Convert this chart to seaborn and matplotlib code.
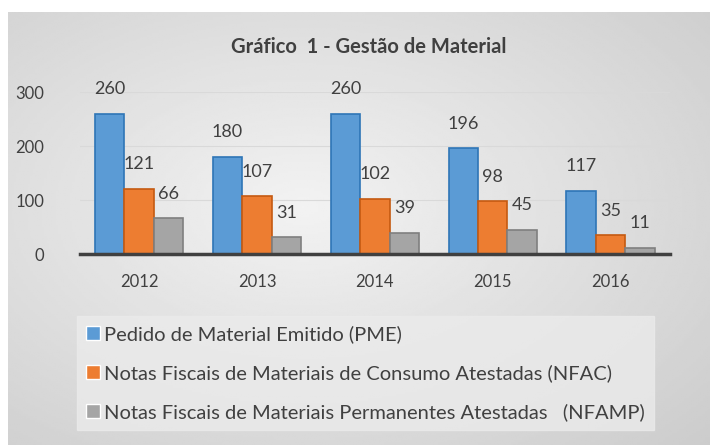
import numpy as np
import pandas as pd
import matplotlib
matplotlib.use("Agg")
import matplotlib.pyplot as plt
import seaborn as sns

anos = ["2012", "2013", "2014", "2015", "2016"]
series = [
    "Pedido de Material Emitido (PME)",
    "Notas Fiscais de Materiais de Consumo Atestadas (NFAC)",
    "Notas Fiscais de Materiais Permanentes Atestadas   (NFAMP)",
]
pme = [260, 180, 260, 196, 117]
nfac = [121, 107, 102, 98, 35]
nfamp = [66, 31, 39, 45, 11]
cores = ["#5b9bd5", "#ed7d31", "#a5a5a5"]
bordas = ["#2e75b6", "#c55a11", "#7f7f7f"]

df = pd.DataFrame({
    "ano": anos * 3,
    "serie": [series[0]] * 5 + [series[1]] * 5 + [series[2]] * 5,
    "valor": pme + nfac + nfamp,
})

sns.set_theme(style="white")
plt.rcParams["font.family"] = ["Lato", "DejaVu Sans"]

fig = plt.figure(figsize=(7.1, 4.45), dpi=100)
fig.patch.set_facecolor("white")

# fundo cinza com gradiente, como no grafico do Excel
bg = fig.add_axes([0.011, 0.0, 0.989, 0.972])
yy, xx = np.mgrid[0:1:200j, 0:1:300j]
r = np.sqrt(((xx - 0.42) / 0.9) ** 2 + ((yy - 0.45) / 0.9) ** 2)
bg.imshow(0.95 - 0.17 * r, cmap="gray", vmin=0, vmax=1, aspect="auto",
          extent=[0, 1, 0, 1])
bg.set_axis_off()

ax = fig.add_axes([0.113, 0.429, 0.83, 0.364])
ax.patch.set_alpha(0)
sns.barplot(data=df, x="ano", y="valor", hue="serie", palette=cores,
            width=0.75, saturation=1, ax=ax, legend=True)

for i, cont in enumerate(ax.containers):
    for b in cont:
        b.set_edgecolor(bordas[i])
        b.set_linewidth(1.2)
    ax.bar_label(cont, padding=12, fontsize=13, color="#404040")

ax.set_ylim(0, 300)
ax.set_yticks([0, 100, 200, 300])
ax.grid(axis="y", color="#d9d9d9", linewidth=0.8)
ax.set_axisbelow(True)
for s in ["top", "right", "left"]:
    ax.spines[s].set_visible(False)
ax.spines["bottom"].set_color("#404040")
ax.spines["bottom"].set_linewidth(2.5)
ax.tick_params(axis="x", labelsize=12, labelcolor="#404040", pad=14, length=0)
ax.tick_params(axis="y", labelsize=12, labelcolor="#404040", pad=26, length=0)
ax.set_xlabel("")
ax.set_ylabel("")

fig.text(0.52, 0.895, "Gráfico  1 - Gestão de Material", ha="center",
         va="center", fontsize=14.5, fontweight="bold", color="#404040")

h, l = ax.get_legend_handles_labels()
ax.get_legend().remove()
leg = fig.legend(h, l, loc="upper left", bbox_to_anchor=(0.108, 0.29),
                 ncol=1, fontsize=14.5, frameon=True, fancybox=False,
                 handlelength=0.7, handleheight=0.7, handletextpad=0.2,
                 labelspacing=1.05, borderpad=0.45, borderaxespad=0)
leg.get_frame().set_facecolor("#ebebeb")
leg.get_frame().set_edgecolor("#ebebeb")
for t in leg.get_texts():
    t.set_color("#404040")

fig.savefig("out.png", dpi=100)
